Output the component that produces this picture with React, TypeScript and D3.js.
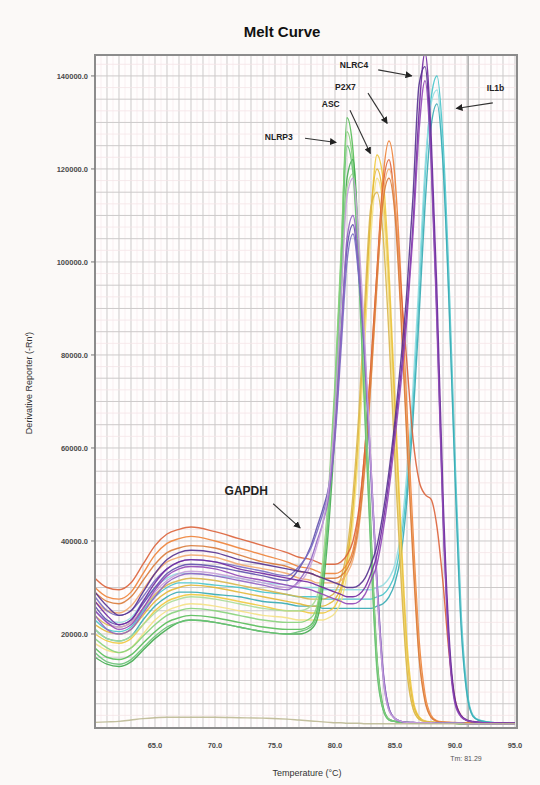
import React, { useEffect } from "react";
import * as d3 from "d3";

// Temperatures (°C) at which each derivative curve is sampled
const TEMPS = [60, 61, 62, 63, 64, 65, 66, 67, 68, 70, 72, 74, 76, 77, 78,
  78.5, 79, 79.5, 80, 80.5, 81, 81.5, 82, 82.5, 83, 83.5, 84, 84.5,
  85, 85.5, 86, 86.5, 87, 87.5, 88, 88.5, 89, 89.5, 90, 90.5, 91, 91.5, 92, 93, 95];

// Derivative reporter values, in thousands
const NLRP3_A = [17, 15, 14.5, 15.5, 18, 20.5, 22.5, 23.5, 24, 23.5, 22.5, 21.5, 21, 21, 22,
  25, 34, 50, 72, 100, 131, 124, 100, 70, 40, 14, 4, 1.6,
  1.2, 1, 1, 0.9, 0.9, 0.9, 0.8, 0.8, 0.8, 0.8, 0.8, 0.7, 0.7, 0.7, 0.7, 0.7, 0.6];
const NLRP3_B = [19, 17, 16, 17, 19.5, 22, 24, 25, 25.5, 25, 24, 23, 22.5, 22.5, 23.5,
  26, 35, 52, 74, 102, 128, 121, 98, 68, 38, 13, 4, 1.6,
  1.2, 1, 1, 0.9, 0.9, 0.9, 0.8, 0.8, 0.8, 0.8, 0.8, 0.7, 0.7, 0.7, 0.7, 0.7, 0.6];
const NLRP3_C = [15, 13.5, 13, 14, 16.5, 19, 21, 22.5, 23, 22.5, 21.5, 20.5, 20, 20, 21,
  23, 30, 44, 64, 92, 118, 122, 102, 72, 42, 15, 4.5, 1.7,
  1.2, 1, 1, 0.9, 0.9, 0.9, 0.8, 0.8, 0.8, 0.8, 0.8, 0.7, 0.7, 0.7, 0.7, 0.7, 0.6];
const NLRP3_D = [21, 19, 18.5, 19.5, 22, 24.5, 26.5, 27.5, 28, 27.5, 26.5, 25.5, 25, 25, 26,
  28, 36, 50, 70, 96, 116, 119, 99, 70, 40, 14, 4, 1.6,
  1.2, 1, 1, 0.9, 0.9, 0.9, 0.8, 0.8, 0.8, 0.8, 0.8, 0.7, 0.7, 0.7, 0.7, 0.7, 0.6];
const NLRP3_E = [16, 14, 13.5, 14.5, 17, 19.5, 21.5, 22.5, 23, 22.5, 21.5, 20.5, 20, 20.5, 21.5,
  24, 32, 47, 68, 96, 125, 119, 96, 66, 37, 12, 3.8, 1.5,
  1.2, 1, 1, 0.9, 0.9, 0.9, 0.8, 0.8, 0.8, 0.8, 0.8, 0.7, 0.7, 0.7, 0.7, 0.7, 0.6];

const GAPDH_A = [26, 23, 22, 23, 26.5, 30, 33, 34.5, 35, 34.5, 33.5, 32.5, 31.5, 34, 39,
  43, 47, 52, 64, 84, 103, 108, 97, 79, 55, 31, 12, 4,
  1.8, 1.2, 1, 1, 0.9, 0.9, 0.9, 0.8, 0.8, 0.8, 0.8, 0.8, 0.7, 0.7, 0.7, 0.7, 0.7];
const GAPDH_B = [28, 25, 24, 25, 28, 31.5, 34, 35.5, 36, 35.5, 34.5, 33.5, 32.5, 34.5, 38.5,
  42, 46, 51, 62, 81, 100, 106, 96, 78, 54, 30, 11, 3.6,
  1.8, 1.2, 1, 1, 0.9, 0.9, 0.9, 0.8, 0.8, 0.8, 0.8, 0.8, 0.7, 0.7, 0.7, 0.7, 0.7];
const GAPDH_C = [24, 21, 20, 21, 24.5, 28, 31, 32.5, 33, 32.5, 31.5, 30.5, 29.5, 31.5, 36,
  40, 44, 50, 63, 84, 105, 110, 99, 80, 56, 32, 12.5, 4,
  1.8, 1.2, 1, 1, 0.9, 0.9, 0.9, 0.8, 0.8, 0.8, 0.8, 0.8, 0.7, 0.7, 0.7, 0.7, 0.7];
const GAPDH_D = [25, 22.5, 21.5, 22.5, 25.5, 29, 31.5, 33, 33.5, 33, 32, 31, 30, 31, 35,
  39, 44, 52, 68, 92, 114, 118, 104, 82, 56, 30, 11, 3.5,
  1.8, 1.2, 1, 1, 0.9, 0.9, 0.9, 0.8, 0.8, 0.8, 0.8, 0.8, 0.7, 0.7, 0.7, 0.7, 0.7];

const ASC_A = [20, 18.5, 18, 19, 22, 25, 27, 28, 28.5, 28, 27, 26, 25, 25, 24.5,
  24.5, 24.5, 25, 26, 29, 35, 46, 63, 86, 110, 123, 118, 98,
  70, 42, 18, 6, 2.2, 1.3, 1.1, 1, 1, 0.9, 0.9, 0.8, 0.8, 0.8, 0.8, 0.7, 0.7];
const ASC_B = [22, 20.5, 20, 21, 24, 27, 29, 30, 30.5, 30, 29, 28, 27, 26.5, 26,
  26, 26, 26.5, 27.5, 30, 36, 47, 64, 88, 111, 120, 114, 94,
  66, 38, 15, 5, 2, 1.2, 1.1, 1, 1, 0.9, 0.9, 0.8, 0.8, 0.8, 0.8, 0.7, 0.7];
const ASC_C = [18, 16.5, 16, 17, 20, 23, 25, 26, 26.5, 26, 25, 24, 23.5, 23, 23,
  23, 23, 23.5, 24.5, 27, 33, 44, 61, 84, 106, 118, 112, 91,
  62, 35, 13, 4, 1.7, 1.2, 1.1, 1, 1, 0.9, 0.9, 0.8, 0.8, 0.8, 0.8, 0.7, 0.7];
const ASC_D = [24, 22, 21.5, 22.5, 25.5, 28.5, 30.5, 31.5, 32, 31.5, 30.5, 29.5, 28.5, 28, 27.5,
  27.5, 27.5, 28, 29, 32, 38, 50, 68, 92, 112, 115, 106, 84,
  57, 32, 12, 4, 1.7, 1.2, 1.1, 1, 1, 0.9, 0.9, 0.8, 0.8, 0.8, 0.8, 0.7, 0.7];

const P2X7_A = [30, 28, 27.5, 29, 33, 37, 39.5, 40.5, 41, 40, 38.5, 37, 35.5, 34.5, 34,
  33.5, 33, 33, 33, 33.5, 35, 38, 46, 60, 78, 98, 118, 126,
  118, 96, 68, 42, 19, 7, 2.5, 1.3, 1.1, 1, 1, 0.9, 0.9, 0.8, 0.8, 0.8, 0.7];
const P2X7_B = [32, 30, 29.5, 31, 35, 39, 41.5, 42.5, 43, 42, 40.5, 39, 37.5, 36.5, 36,
  35.5, 35, 35, 35, 35.5, 37, 40, 47, 60, 78, 98, 116, 122,
  112, 94, 78, 62, 53, 50, 49, 43, 31, 16, 6, 2.5, 1.4, 1.1, 1, 0.9, 0.8];
const P2X7_C = [27, 25, 24.5, 26, 29.5, 33, 35.5, 36.5, 37, 36.5, 35, 34, 33, 32, 31.5,
  31, 31, 31, 31, 31.5, 33, 36, 43, 56, 74, 95, 114, 120,
  112, 90, 63, 38, 16, 6, 2.2, 1.2, 1, 1, 0.9, 0.9, 0.8, 0.8, 0.8, 0.8, 0.7];
const P2X7_D = [29, 27, 26.5, 28, 31.5, 35, 37.5, 38.5, 39, 38.5, 37, 35.5, 34.5, 33.5, 33,
  32.5, 32, 32, 32, 32.5, 34, 37, 44, 57, 75, 96, 113, 118,
  110, 88, 61, 36, 15, 5.5, 2.1, 1.2, 1, 1, 0.9, 0.9, 0.8, 0.8, 0.8, 0.8, 0.7];

const NLRC4_A = [27, 24, 22, 23, 27, 31, 34, 35.5, 36, 35.5, 34, 33, 32, 31.5, 31,
  30.5, 30, 29.5, 29, 28.5, 28, 28, 28.5, 30, 33, 37, 44, 53,
  64, 76, 90, 108, 132, 145, 128, 93, 50, 20, 6, 2.5, 1.5, 1.2, 1, 0.9, 0.8];
const NLRC4_B = [29, 26, 24, 25, 29, 33, 36, 37.5, 38, 37.5, 36, 35, 34, 33.5, 33,
  32.5, 32, 31.5, 31, 30.5, 30, 30, 30.5, 32, 35, 39, 46, 55,
  66, 79, 94, 114, 138, 142, 124, 88, 46, 18, 5.5, 2.3, 1.4, 1.1, 1, 0.9, 0.8];
const NLRC4_C = [25, 22.5, 21, 22, 25.5, 29.5, 32.5, 34, 34.5, 34, 32.5, 31.5, 30.5, 30, 29.5,
  29, 28.5, 28, 27.5, 27, 26.5, 26.5, 27, 28.5, 31.5, 35, 42, 51,
  62, 74, 88, 106, 128, 139, 122, 86, 45, 17, 5, 2.2, 1.4, 1.1, 1, 0.9, 0.8];

const IL1B_A = [23, 21, 20.5, 21.5, 25, 28, 30, 31, 31, 30.5, 30, 29, 28.5, 28, 28,
  28, 27.5, 27.5, 27.5, 27.5, 27.5, 27.5, 27.5, 27.5, 27.5, 28, 28.5, 30,
  33, 40, 52, 70, 93, 118, 135, 140, 126, 96, 58, 25, 8, 2.5, 1.5, 1, 0.8];
const IL1B_B = [25, 23, 22.5, 23.5, 27, 30, 32, 33, 33, 32.5, 32, 31, 30.5, 30, 30,
  30, 29.5, 29.5, 29.5, 29.5, 29.5, 29.5, 29.5, 29.5, 29.5, 30, 30.5, 32,
  35, 42, 55, 73, 96, 120, 134, 137, 122, 92, 55, 23, 7, 2.3, 1.4, 1, 0.8];
const IL1B_C = [21, 19, 18.5, 19.5, 23, 26, 28, 29, 29, 28.5, 28, 27, 26.5, 26, 26,
  26, 25.5, 25.5, 25.5, 25.5, 25.5, 25.5, 25.5, 25.5, 25.5, 26, 26.5, 28,
  31, 37, 49, 66, 88, 112, 129, 134, 121, 91, 54, 22, 7, 2.3, 1.4, 1, 0.8];

const NTC = [1, 1.1, 1.2, 1.5, 1.8, 2, 2.1, 2.1, 2.1, 2.1, 2, 1.9, 1.7, 1.5, 1.3,
  1.2, 1.1, 1, 0.9, 0.9, 0.8, 0.8, 0.8, 0.7, 0.7, 0.7, 0.7, 0.7,
  0.7, 0.7, 0.7, 0.7, 0.7, 0.7, 0.7, 0.7, 0.7, 0.7, 0.7, 0.7, 0.7, 0.7, 0.7, 0.7, 0.7];

const SERIES = [
  { id: "il1b-a", values: IL1B_A }, { id: "il1b-b", values: IL1B_B }, { id: "il1b-c", values: IL1B_C },
  { id: "asc-a", values: ASC_A }, { id: "asc-b", values: ASC_B }, { id: "asc-c", values: ASC_C }, { id: "asc-d", values: ASC_D },
  { id: "p2x7-a", values: P2X7_A }, { id: "p2x7-b", values: P2X7_B }, { id: "p2x7-c", values: P2X7_C }, { id: "p2x7-d", values: P2X7_D },
  { id: "nlrp3-a", values: NLRP3_A }, { id: "nlrp3-b", values: NLRP3_B }, { id: "nlrp3-c", values: NLRP3_C },
  { id: "nlrp3-d", values: NLRP3_D }, { id: "nlrp3-e", values: NLRP3_E },
  { id: "gapdh-a", values: GAPDH_A }, { id: "gapdh-b", values: GAPDH_B }, { id: "gapdh-c", values: GAPDH_C }, { id: "gapdh-d", values: GAPDH_D },
  { id: "nlrc4-a", values: NLRC4_A }, { id: "nlrc4-b", values: NLRC4_B }, { id: "nlrc4-c", values: NLRC4_C },
  { id: "ntc", values: NTC },
];

const COLORS: Record<string, string> = {
  "il1b-a": "#45c4ca", "il1b-b": "#92dde1", "il1b-c": "#34aab3",
  "asc-a": "#efc93c", "asc-b": "#e3b735", "asc-c": "#f4e184", "asc-d": "#d9b64a",
  "p2x7-a": "#ee8237", "p2x7-b": "#db6238", "p2x7-c": "#f2a86e", "p2x7-d": "#d97a38",
  "nlrp3-a": "#57bd58", "nlrp3-b": "#86d37a", "nlrp3-c": "#43ab4f", "nlrp3-d": "#a8db98", "nlrp3-e": "#68c274",
  "gapdh-a": "#6150ad", "gapdh-b": "#786cc2", "gapdh-c": "#9064c2", "gapdh-d": "#c6a0da",
  "nlrc4-a": "#7028a0", "nlrc4-b": "#553190", "nlrc4-c": "#9147b7",
  "ntc": "#bdb993",
};

const Y_TICKS = [20000, 40000, 60000, 80000, 100000, 120000, 140000];
const X_TICKS = [65, 70, 75, 80, 85, 90, 95];

// annotation labels: text anchor and arrow, in data units (°C, reporter)
const NOTES = [
  { text: "NLRC4", t: 80.4, v: 141800, from: [83.6, 141300], to: [86.4, 140000] },
  { text: "P2X7", t: 80.0, v: 137000, from: [82.75, 136300], to: [84.35, 129800] },
  { text: "ASC", t: 78.9, v: 133300, from: [81.25, 132600], to: [82.95, 123300] },
  { text: "NLRP3", t: 74.15, v: 126200, from: [77.5, 126600], to: [80.1, 125700] },
  { text: "IL1b", t: 92.65, v: 136800, from: [93.15, 134200], to: [90.1, 133000] },
  { text: "GAPDH", t: 70.8, v: 49800, from: [74.85, 48000], to: [77.1, 42800] },
];

const FONT = "'Liberation Sans', Arial, sans-serif";

export default function App() {
  useEffect(() => {
    document.body.style.margin = "0";
    document.body.style.background = "#fbf9f7";
  }, []);

  const W = 540, H = 785;
  const L = 95, R = 517, T = 55, B = 728;
  const x = d3.scaleLinear().domain([60, 95.1667]).range([L, R]);
  const y = d3.scaleLinear().domain([0, 144500]).range([727, T]);

  const line = d3.line<number>()
    .x((_, i) => x(TEMPS[i]))
    .y((d) => y(d * 1000))
    .curve(d3.curveMonotoneX);

  const vGrid = d3.range(60.5, 95.01, 0.5);
  const hGrid = d3.range(2500, 144500, 2500);

  return (
    <svg width={W} height={H} style={{ position: "absolute", left: 0, top: 0, background: "#fbf9f7" }}>
      <defs>
        <marker id="arr" viewBox="0 0 10 10" refX="9" refY="5" markerWidth="7" markerHeight="7"
          markerUnits="userSpaceOnUse" orient="auto">
          <path d="M0,0 L10,5 L0,10 z" fill="#222" />
        </marker>
        <clipPath id="plot"><rect x={L} y={T} width={R - L} height={B - T} /></clipPath>
      </defs>
      <text x={282} y={37} textAnchor="middle" fontFamily={FONT} fontWeight="bold" fontSize={15} fill="#111">Melt Curve</text>
      <rect x={L} y={T} width={R - L} height={B - T} fill="#fffdfd" />
      {vGrid.map((t) => {
        const major = Math.abs(t - Math.round(t)) < 1e-6;
        return <line key={"v" + t} x1={x(t)} x2={x(t)} y1={T} y2={B}
          stroke={major ? "#cdcaca" : "#f7ebed"} strokeWidth={major ? 1 : 0.8} />;
      })}
      {hGrid.map((v) => {
        const major = v % 5000 === 0;
        return <line key={"h" + v} x1={L} x2={R} y1={y(v)} y2={y(v)}
          stroke={major ? "#cdcaca" : "#f5e4e7"} strokeWidth={major ? 1 : 0.8} />;
      })}
      <line x1={x(91.1)} x2={x(91.1)} y1={T} y2={B} stroke="#a8a8a8" strokeWidth={1.3} />
      <g clipPath="url(#plot)">
        {SERIES.map((s) => (
          <path key={s.id} d={line(s.values) || ""} fill="none" stroke={COLORS[s.id]}
            strokeWidth={1.4} strokeLinejoin="round" opacity={0.9} />
        ))}
      </g>
      <rect x={L} y={T} width={R - L} height={B - T} fill="none" stroke="#8c8c8c" strokeWidth={2} />
      {Y_TICKS.map((v) => (
        <g key={"yt" + v}>
          <line x1={L - 4} x2={L} y1={y(v)} y2={y(v)} stroke="#777" />
          <text x={L - 7} y={y(v)} dy="0.35em" textAnchor="end" fontFamily={FONT} fontSize={7.5}
            fontWeight="bold" fill="#4a4a4a">{d3.format(".1f")(v)}</text>
        </g>
      ))}
      {X_TICKS.map((t) => (
        <text key={"xt" + t} x={x(t)} y={748} textAnchor="middle" fontFamily={FONT} fontSize={7.5}
          fontWeight="bold" fill="#4a4a4a">{d3.format(".1f")(t)}</text>
      ))}
      <text x={466} y={761} textAnchor="middle" fontFamily={FONT} fontSize={7} fill="#555">Tm: 81.29</text>
      <text x={307} y={776} textAnchor="middle" fontFamily={FONT} fontSize={9} fill="#333">Temperature (°C)</text>
      <text transform={`translate(32,383) rotate(-90)`} textAnchor="middle" fontFamily={FONT} fontSize={9}
        fill="#333">Derivative Reporter (-Rn')</text>
      {NOTES.map((n) => (
        <g key={n.text}>
          <text x={x(n.t)} y={y(n.v)} fontFamily={FONT} fontWeight="bold"
            fontSize={n.text === "GAPDH" ? 12 : 8.5} fill="#222">{n.text}</text>
          <line x1={x(n.from[0])} y1={y(n.from[1])} x2={x(n.to[0])} y2={y(n.to[1])}
            stroke="#333" strokeWidth={1.1} markerEnd="url(#arr)" />
        </g>
      ))}
    </svg>
  );
}
